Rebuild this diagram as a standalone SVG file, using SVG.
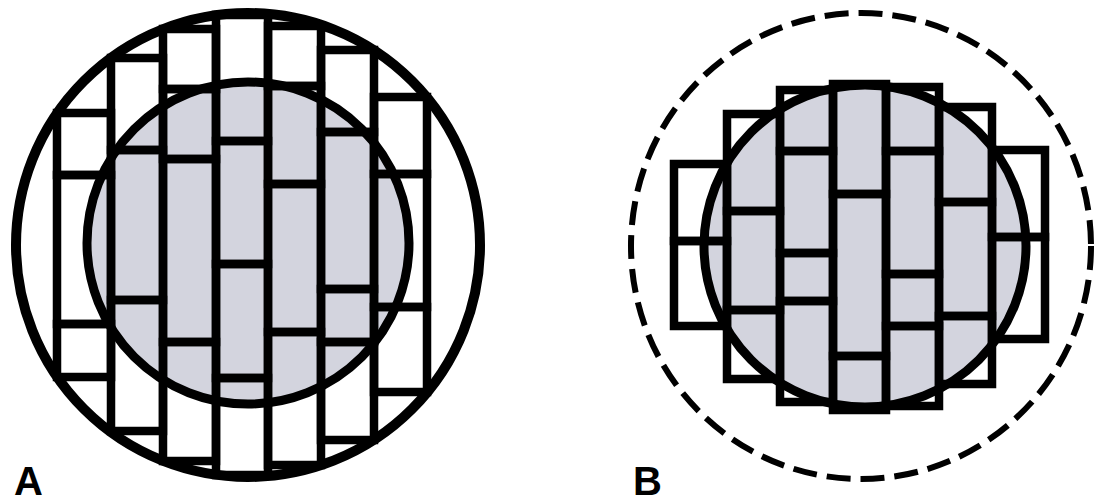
<svg xmlns="http://www.w3.org/2000/svg" width="1095" height="504" viewBox="0 0 1095 504">
<style>
.bg{fill:#ffffff}
.core{fill:#d3d4de;stroke:#000;stroke-width:9}
.brick{fill:none;stroke:#000;stroke-width:8.5;stroke-linejoin:miter}
.outer{fill:none;stroke:#000;stroke-width:10}
.dash{fill:none;stroke:#000;stroke-width:6;stroke-dasharray:24 10}
.lbl{font-family:"Liberation Sans",Arial,sans-serif;font-weight:bold;font-size:40px;fill:#000}
</style>
<rect class="bg" x="0" y="0" width="1095" height="504"/>
<g id="figA">
  <circle class="core" cx="248" cy="243" r="161"/>
  <g id="bricksA">
    <rect class="brick" x="57" y="113" width="54" height="62"/>
    <rect class="brick" x="57" y="175" width="54" height="149"/>
    <rect class="brick" x="57" y="324" width="54" height="53"/>
    <rect class="brick" x="111" y="58" width="52" height="92"/>
    <rect class="brick" x="111" y="150" width="52" height="150"/>
    <rect class="brick" x="111" y="300" width="52" height="131"/>
    <rect class="brick" x="163" y="29" width="53" height="60"/>
    <rect class="brick" x="163" y="89" width="53" height="70"/>
    <rect class="brick" x="163" y="159" width="53" height="183"/>
    <rect class="brick" x="163" y="342" width="53" height="119"/>
    <rect class="brick" x="216" y="15" width="52" height="126"/>
    <rect class="brick" x="216" y="141" width="52" height="123"/>
    <rect class="brick" x="216" y="264" width="52" height="114"/>
    <rect class="brick" x="216" y="378" width="52" height="97"/>
    <rect class="brick" x="268" y="26" width="53" height="60"/>
    <rect class="brick" x="268" y="86" width="53" height="98"/>
    <rect class="brick" x="268" y="184" width="53" height="148"/>
    <rect class="brick" x="268" y="332" width="53" height="133"/>
    <rect class="brick" x="321" y="50" width="53" height="82"/>
    <rect class="brick" x="321" y="132" width="53" height="157"/>
    <rect class="brick" x="321" y="289" width="53" height="53"/>
    <rect class="brick" x="321" y="342" width="53" height="98"/>
    <rect class="brick" x="374" y="97" width="53" height="77"/>
    <rect class="brick" x="374" y="174" width="53" height="133"/>
    <rect class="brick" x="374" y="307" width="53" height="85"/>
  </g>
  <circle class="outer" cx="248" cy="245" r="232"/>
  <text class="lbl" x="14" y="495">A</text>
</g>
<g id="figB">
  <ellipse class="dash" cx="861" cy="246" rx="230" ry="233"/>
  <circle class="core" cx="865" cy="246" r="161"/>
  <g id="bricksB">
    <rect class="brick" x="674" y="164" width="53" height="77"/>
    <rect class="brick" x="674" y="241" width="53" height="85"/>
    <rect class="brick" x="727" y="114" width="53" height="97"/>
    <rect class="brick" x="727" y="211" width="53" height="99"/>
    <rect class="brick" x="727" y="310" width="53" height="69"/>
    <rect class="brick" x="780" y="90" width="53" height="61"/>
    <rect class="brick" x="780" y="151" width="53" height="102"/>
    <rect class="brick" x="780" y="253" width="53" height="48"/>
    <rect class="brick" x="780" y="301" width="53" height="101"/>
    <rect class="brick" x="833" y="84" width="53" height="110"/>
    <rect class="brick" x="833" y="194" width="53" height="162"/>
    <rect class="brick" x="833" y="356" width="53" height="54"/>
    <rect class="brick" x="886" y="87" width="53" height="64"/>
    <rect class="brick" x="886" y="151" width="53" height="123"/>
    <rect class="brick" x="886" y="274" width="53" height="52"/>
    <rect class="brick" x="886" y="326" width="53" height="80"/>
    <rect class="brick" x="939" y="107" width="53" height="95"/>
    <rect class="brick" x="939" y="202" width="53" height="114"/>
    <rect class="brick" x="939" y="316" width="53" height="68"/>
    <rect class="brick" x="992" y="150" width="53" height="87"/>
    <rect class="brick" x="992" y="237" width="53" height="102"/>
  </g>
  <text class="lbl" x="633" y="495">B</text>
</g>
<g id="connectors"/>
</svg>
